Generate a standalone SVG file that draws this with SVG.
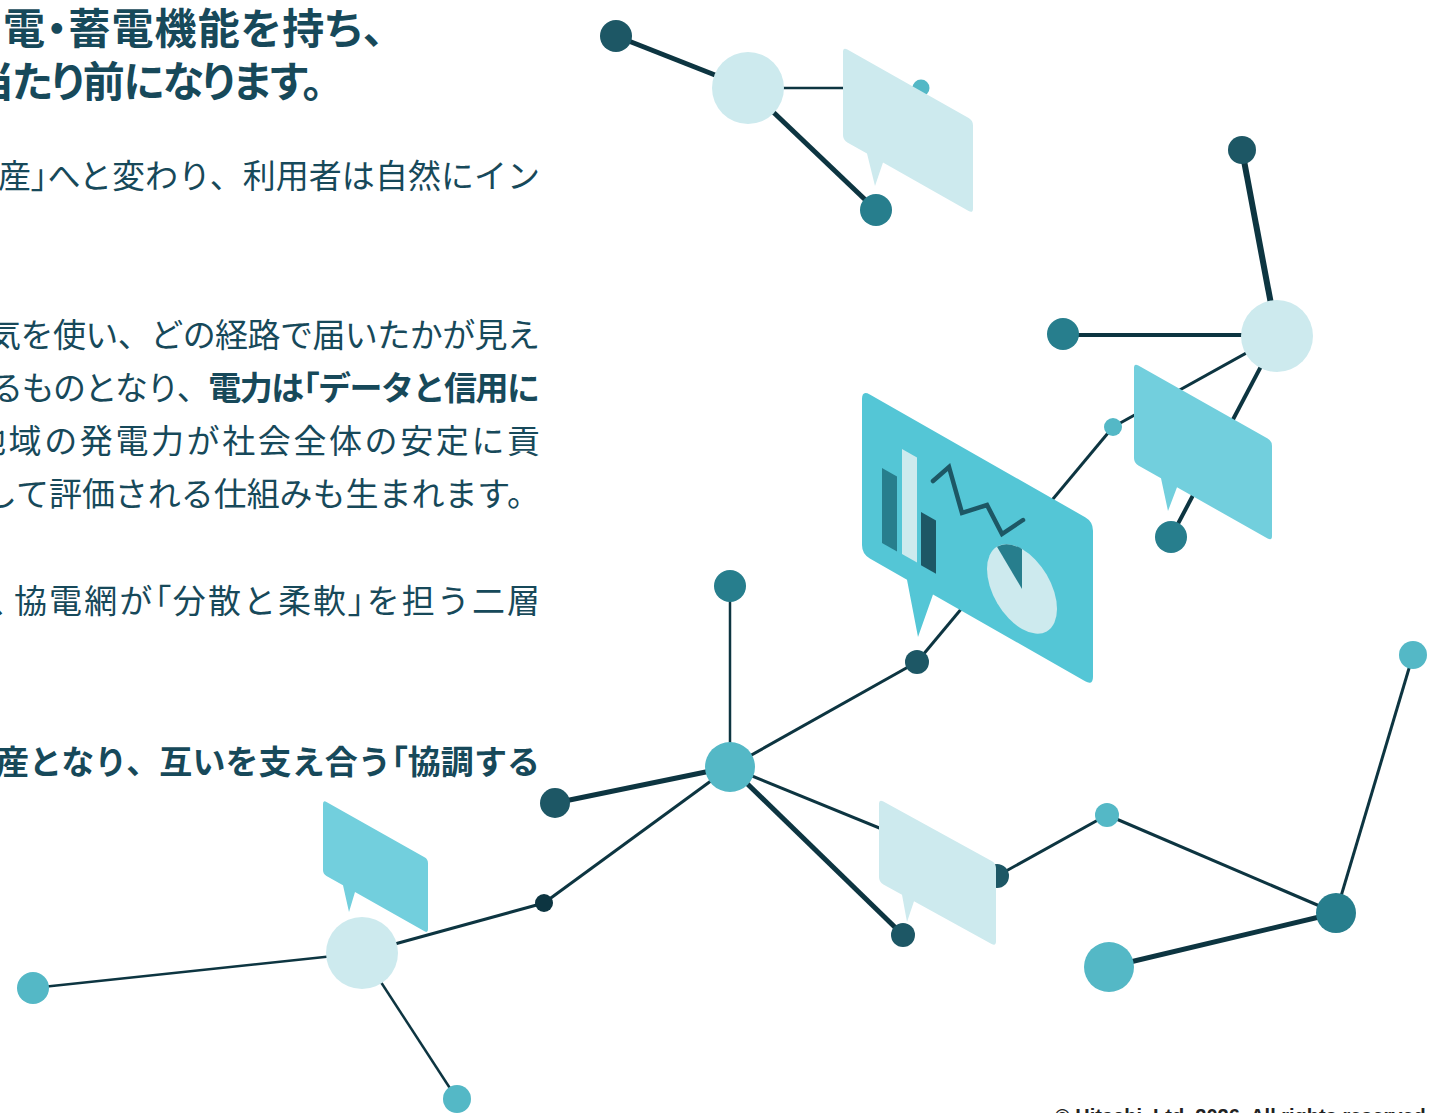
<svg xmlns="http://www.w3.org/2000/svg" width="1445" height="1113" viewBox="0 0 1445 1113">
  <style>
    .ln { stroke: #0d3541; fill: none; stroke-linecap: butt; }
    .dk { fill: #1d5765; }
    .md { fill: #277e8d; }
    .cy { fill: #54b8c6; }
    .pl { fill: #cdeaee; }
    .deep { fill: #0d3541; }
    .bub-pale { fill: #cdeaee; }
    .bub-cyan { fill: #72cfdd; }
    .bub-chart { fill: #54c6d6; }
    .jp { font-family: "Noto Sans CJK JP", "Noto Sans", sans-serif; fill: #17495a; }
    .ttl { font-size: 42px; font-weight: 700; font-feature-settings: "palt" 1; }
    .body { font-size: 33px; font-weight: 400; }
    .b { font-weight: 700; }
    .br { font-feature-settings: "palt" 1; }
    .copy { font-family: "Liberation Sans", Arial, sans-serif; font-size: 20px; font-weight: 700; fill: #222222; }
  </style>

  <!-- heading and body copy (cropped at the left edge) -->
  <g id="copy-text">
    <text class="jp ttl" x="3" y="44" textLength="381" lengthAdjust="spacing">電・蓄電機能を持ち、</text>
    <text class="jp ttl" x="-28" y="97" textLength="351" lengthAdjust="spacing">当たり前になります。</text>

    <text class="jp body" x="-2" y="188" textLength="542" lengthAdjust="spacing">産<tspan class="br">」</tspan>へと変わり、利用者は自然にイン</text>
    <text class="jp body" x="-12" y="347" textLength="552" lengthAdjust="spacing">気を使い、どの経路で届いたかが見え</text>
    <text class="jp body" x="-10" y="400" textLength="550" lengthAdjust="spacing">るものとなり、<tspan class="b">電力は<tspan class="br">「</tspan>データと信用に</tspan></text>
    <text class="jp body" x="-27" y="453" textLength="567" lengthAdjust="spacing">地域の発電力が社会全体の安定に貢</text>
    <text class="jp body" x="-16" y="506" textLength="556" lengthAdjust="spacing">して評価される仕組みも生まれます。</text>
    <text class="jp body" y="613"><tspan x="-9">、</tspan><tspan x="14" textLength="526" lengthAdjust="spacing">協電網が<tspan class="br">「</tspan>分散と柔軟<tspan class="br">」</tspan>を担う二層</tspan></text>
    <text class="jp body b" x="-4" y="774" textLength="544" lengthAdjust="spacing">産となり、互いを支え合う<tspan class="br">「</tspan>協調する</text>
  </g>

  <!-- connectors -->
  <g id="connectors" class="ln">
    <line x1="616" y1="36" x2="748" y2="88" stroke-width="5"/>
    <line x1="748" y1="88" x2="876" y2="210" stroke-width="5"/>
    <line x1="748" y1="88" x2="921" y2="88" stroke-width="2.5"/>
    <line x1="1242" y1="150" x2="1277" y2="336" stroke-width="6"/>
    <line x1="1063" y1="335" x2="1277" y2="335" stroke-width="4"/>
    <line x1="1277" y1="336" x2="1113" y2="427" stroke-width="3"/>
    <line x1="1277" y1="336" x2="1171" y2="537" stroke-width="4"/>
    <line x1="1113" y1="427" x2="917" y2="662" stroke-width="3"/>
    <line x1="917" y1="662" x2="730" y2="767" stroke-width="3"/>
    <line x1="730" y1="586" x2="730" y2="767" stroke-width="2.5"/>
    <line x1="555" y1="803" x2="730" y2="767" stroke-width="5"/>
    <line x1="544" y1="903" x2="730" y2="767" stroke-width="3"/>
    <line x1="903" y1="935" x2="730" y2="767" stroke-width="5"/>
    <line x1="997" y1="876" x2="730" y2="767" stroke-width="3"/>
    <line x1="544" y1="903" x2="362" y2="953" stroke-width="3"/>
    <line x1="33" y1="988" x2="362" y2="953" stroke-width="2.5"/>
    <line x1="362" y1="953" x2="457" y2="1099" stroke-width="2.5"/>
    <line x1="997" y1="876" x2="1107" y2="815" stroke-width="3"/>
    <line x1="1107" y1="815" x2="1336" y2="913" stroke-width="3"/>
    <line x1="1336" y1="913" x2="1109" y2="967" stroke-width="5"/>
    <line x1="1336" y1="913" x2="1413" y2="655" stroke-width="3"/>
  </g>

  <!-- nodes -->
  <g id="n1"><circle class="dk" cx="616" cy="36" r="16"/></g>
  <g id="n2"><circle class="pl" cx="748" cy="88" r="36"/></g>
  <g id="n3"><circle class="md" cx="876" cy="210" r="16"/></g>
  <g id="n4"><circle class="cy" cx="921" cy="88" r="8.5"/></g>
  <g id="n5"><circle class="dk" cx="1242" cy="150" r="14"/></g>
  <g id="n6"><circle class="pl" cx="1277" cy="336" r="36"/></g>
  <g id="n7"><circle class="md" cx="1063" cy="334" r="16"/></g>
  <g id="n8"><circle class="cy" cx="1113" cy="427" r="9"/></g>
  <g id="n9"><circle class="md" cx="1171" cy="537" r="16"/></g>
  <g id="n10"><circle class="dk" cx="917" cy="662" r="12"/></g>
  <g id="n11"><circle class="cy" cx="730" cy="767" r="25"/></g>
  <g id="n12"><circle class="md" cx="730" cy="586" r="16"/></g>
  <g id="n13"><circle class="dk" cx="555" cy="803" r="15"/></g>
  <g id="n14"><circle class="deep" cx="544" cy="903" r="9"/></g>
  <g id="n15"><circle class="dk" cx="903" cy="935" r="12"/></g>
  <g id="n16"><circle class="dk" cx="997" cy="876" r="12"/></g>
  <g id="n17"><circle class="pl" cx="362" cy="953" r="36"/></g>
  <g id="n18"><circle class="cy" cx="1107" cy="815" r="12"/></g>
  <g id="n19"><circle class="md" cx="1336" cy="913" r="20"/></g>
  <g id="n20"><circle class="cy" cx="1109" cy="967" r="25"/></g>
  <g id="n21"><circle class="cy" cx="1413" cy="655" r="14"/></g>
  <g id="n22"><circle class="cy" cx="33" cy="988" r="16"/></g>
  <g id="n23"><circle class="cy" cx="457" cy="1099" r="14"/></g>

  <!-- speech bubbles, drawn as skewed panels -->
  <g id="bubble-top">
    <path class="bub-pale" d="M843,52 Q843,47 847.35,49.46 L968.65,118 Q973,120.45 973,125.45 L973,208.45 Q973,213.45 968.65,211 L883,162.6 L875,186 L867,153.56 L847.35,142.46 Q843,140 843,135 Z"/>
  </g>
  <g id="bubble-right">
    <path class="bub-cyan" d="M1134,368 Q1134,363 1138.35,365.46 L1267.65,438.5 Q1272,441 1272,446 L1272,536 Q1272,541 1267.65,538.5 L1177,487.3 L1168,511 L1161,478.3 L1138.35,465.46 Q1134,463 1134,458 Z"/>
  </g>
  <g id="bubble-chart">
    <path class="bub-chart" d="M862,399 Q862,390 869.82,394.46 L1085.18,517.21 Q1093,521.67 1093,530.67 L1093,676.67 Q1093,685.67 1085.18,681.21 L933,594.47 L918,637 L907,579.65 L869.82,558.46 Q862,554 862,545 Z"/>
    <path class="md" d="M882,468 L897,476.55 L897,551.55 L882,543 Z"/>
    <path class="pl" d="M902,449 L917,457.55 L917,562.55 L902,554 Z"/>
    <path class="dk" d="M921,512 L936,520.55 L936,573.8 L921,565.25 Z"/>
    <polyline points="933,481 949,467 962,513 987,505 1002,534 1023,520" fill="none" stroke="#1d5765" stroke-width="4.5" stroke-linecap="round" stroke-linejoin="miter"/>
    <g transform="matrix(1,0.57,0,1,1022,589)">
      <ellipse class="pl" cx="0" cy="0" rx="35" ry="40"/>
      <path class="md" d="M0,0 L-25,-28 A35,40 0 0,1 0,-40 Z"/>
    </g>
  </g>
  <g id="bubble-mid">
    <path class="bub-pale" d="M879,804 Q879,799 883.38,801.41 L991.62,860.94 Q996,863.35 996,868.35 L996,941.35 Q996,946.35 991.62,943.94 L914,901.25 L907,922 L902,894.65 L883.38,884.41 Q879,882 879,877 Z"/>
  </g>
  <g id="bubble-left">
    <path class="bub-cyan" d="M323,804 Q323,800 326.48,801.97 L424.52,857.36 Q428,859.33 428,863.33 L428,929.33 Q428,933.33 424.52,931.36 L355,892.08 L349,912 L343,885.3 L326.48,875.97 Q323,874 323,870 Z"/>
  </g>

  <!-- footer line, cut by the bottom edge -->
  <text class="copy" x="1055" y="1123">© Hitachi, Ltd. 2026. All rights reserved.</text>
</svg>
